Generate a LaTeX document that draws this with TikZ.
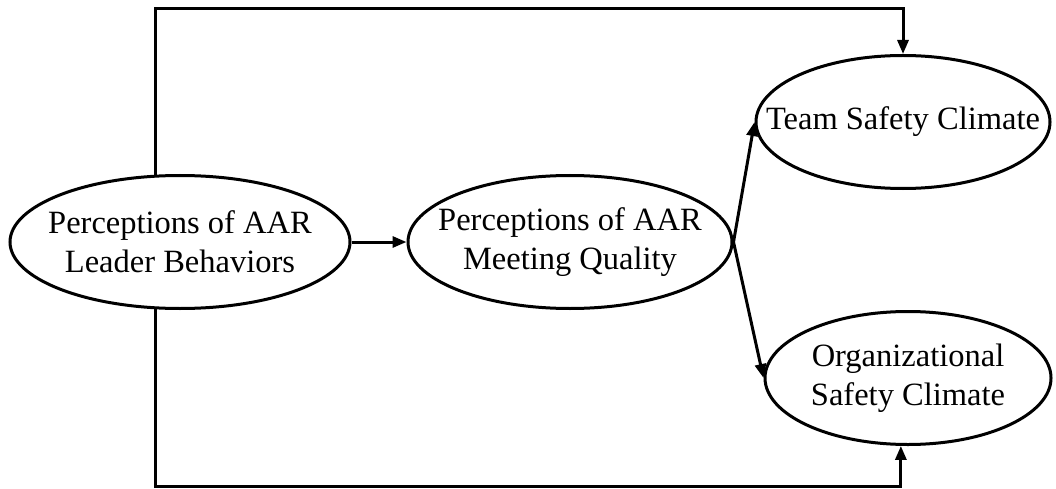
\documentclass[tikz,border=0pt]{standalone}
\usepackage{fontspec}
\setmainfont{Liberation Serif}
\usetikzlibrary{arrows.meta,shapes.geometric}

\begin{document}
\begin{tikzpicture}[x=1pt,y=1pt,
  construct/.style={ellipse,draw,line width=3pt,inner ysep=0pt,align=center,
    font=\fontsize{32.5}{39}\selectfont,minimum height=133pt},
  path/.style={line width=3pt,-{Triangle[length=14pt,width=11pt]}}]
\useasboundingbox (0,0) rectangle (1056,488);
\node[construct,inner xsep=-12pt,minimum width=340pt] (leader) at (180,246) {Perceptions of AAR\\Leader Behaviors};
\node[construct,inner xsep=-17.5pt,minimum width=324pt] (meeting) at (570,246) {Perceptions of AAR\\Meeting Quality};
\node[construct,inner xsep=-33pt,minimum width=292pt] (team) at (903,366) {Team Safety Climate};
\node[construct,inner xsep=0pt,minimum width=286pt] (org) at (908,110) {Organizational\\Safety Climate};
\coordinate (top) at (0,479);
\coordinate (bot) at (0,2);
\draw[path] (leader) -- (meeting);
\draw[path] (meeting.east) -- (team.west);
\draw[path] (meeting.east) -- (org.west);
\draw[path] (leader.110) |- (top -| team.north) -- (team.north);
\draw[path] (leader.250) |- (bot -| org.264) -- (org.264);
\end{tikzpicture}
\end{document}
